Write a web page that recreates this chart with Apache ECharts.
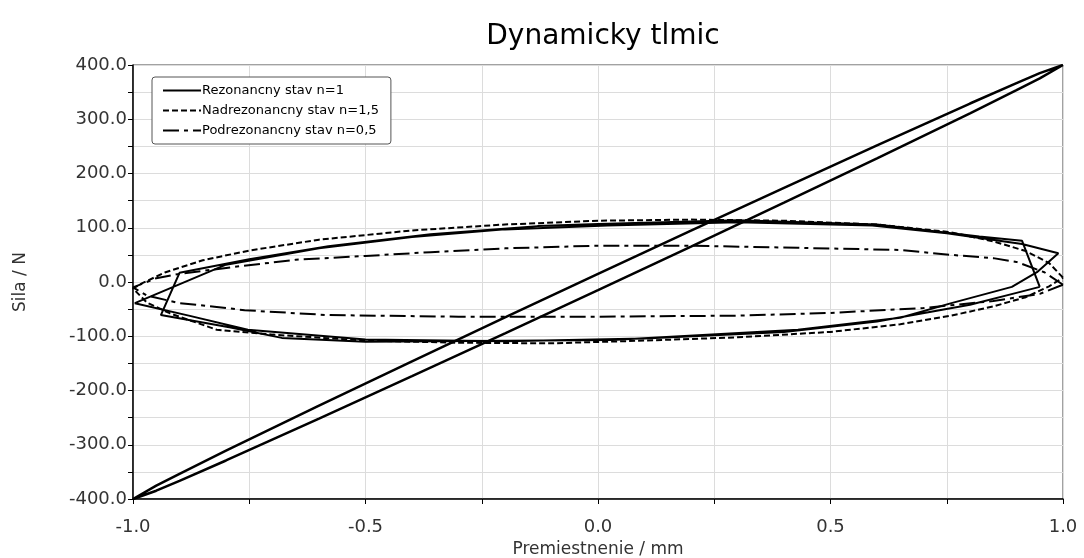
<!DOCTYPE html>
<html>
<head>
<meta charset="utf-8">
<script src="https://cdn.jsdelivr.net/npm/echarts@6/dist/echarts.min.js"></script>
<style>
html,body{margin:0;padding:0;background:#fff;}
#chart{width:1084px;height:558px;}
</style>
</head>
<body>
<div id="chart"></div>
<script>
// ---- data ----
const seriesNames = ['Rezonancny stav n=1', 'Nadrezonancny stav n=1,5', 'Podrezonancny stav n=0,5'];

// Rezonancny stav n=1 : steep thin loop (x in mm, F in N)
const rezDiagonal = [
  [1.0,400],[0.95,385],[0.9,366.5],[0.8,329],[0.6,252],[0.4,173.7],[0.2,94.7],[0.0,15],
  [-0.2,-65.3],[-0.4,-146.3],[-0.6,-228],[-0.8,-311],[-0.9,-353.5],[-0.95,-375.3],[-1.0,-400],
  [-0.95,-384.7],[-0.9,-366.5],[-0.8,-329],[-0.6,-252],[-0.4,-173.7],[-0.2,-94.7],[0.0,-15],
  [0.2,65.3],[0.4,146.3],[0.6,228],[0.8,311],[0.9,353.5],[0.95,375.3],[1.0,400]
];

// Rezonancny stav n=1 : coarse polygonal loops
const rezLoop = [
  [0.95,-9],[0.912,76],[0.82,84],[0.6,106],[0.3,114],[0.0,107],[-0.13,103],[-0.36,88],
  [-0.58,66],[-0.75,42],[-0.90,17],[-0.94,-61],[-0.79,-84],[-0.68,-103],[-0.5,-110],
  [0.03,-107],[0.43,-88],[0.65,-66],[0.76,-39],[0.89,-9],[0.944,18],[0.99,53],
  [0.912,70],[0.75,90],[0.59,104],[0.3,110],[0.02,104],[-0.2,97],[-0.4,83],[-0.6,62],
  [-0.8,32],[-0.996,-39],[-0.88,-62],[-0.753,-88],[-0.5,-106],[-0.2,-109],[0.1,-104],
  [0.4,-92],[0.6,-73],[0.8,-42],[0.9,-20],[0.95,-9]
];

// Nadrezonancny stav n=1,5
const nadLoop = [
  [1.0,8],[0.97,35],[0.92,57],[0.85,75],[0.757,92],[0.6,106],[0.4,113],[0.2,115],[0.0,113],
  [-0.2,106],[-0.4,95],[-0.6,78],[-0.75,58],[-0.85,40],[-0.93,18],[-0.98,-2],[-1.0,-12],
  [-0.97,-38],[-0.92,-58],[-0.82,-88],[-0.7,-97],[-0.5,-108],[-0.3,-112],[-0.1,-113],
  [0.1,-108],[0.3,-102],[0.5,-92],[0.65,-78],[0.76,-62],[0.85,-45],[0.92,-28],[0.97,-8],[1.0,8]
];

// Podrezonancny stav n=0,5
const podLoop = [
  [1.0,-5],[0.96,18],[0.9,37],[0.85,44],[0.76,50],[0.65,59],[0.43,63],[0.2,67],[0.0,67],
  [-0.2,62],[-0.36,55],[-0.5,48],[-0.65,41],[-0.79,27],[-0.9,15],[-0.95,7],[-1.0,-10],
  [-0.97,-25],[-0.9,-39],[-0.82,-46],[-0.76,-52],[-0.58,-61],[-0.3,-64],[0.0,-64],
  [0.3,-62],[0.5,-57],[0.7,-48],[0.85,-35],[0.95,-22],[1.0,-5]
];

const xTicks = [-1.0, -0.5, 0.0, 0.5, 1.0];
const yTicks = [-400, -300, -200, -100, 0, 100, 200, 300, 400];

// ---- chart ----
const chart = echarts.init(document.getElementById('chart'), null, {renderer: 'canvas'});
const FONT = 'DejaVu Sans';
const isMajor = (v, list) => list.some(t => Math.abs(t - v) < 1e-9);

function lineSeries(name, data, type, width) {
  return {
    name: name, type: 'line', data: data, showSymbol: false, symbol: 'none',
    smooth: false, animation: false, z: 3,
    lineStyle: {color: '#000', width: width, type: type},
    itemStyle: {color: '#000'},
    emphasis: {disabled: true}
  };
}

chart.setOption({
  backgroundColor: '#fff',
  animation: false,
  title: {
    text: 'Dynamicky tlmic', left: 598, top: 18, textAlign: 'center',
    textStyle: {fontFamily: FONT, fontSize: 28, fontWeight: 'normal', color: '#000'}
  },
  legend: {
    orient: 'vertical', left: 152, top: 77,
    data: seriesNames,
    itemWidth: 38, itemHeight: 12, itemGap: 7,
    padding: [7, 12, 7, 10],
    borderColor: '#555', borderWidth: 1, borderRadius: 3, backgroundColor: '#fff',
    itemStyle: {opacity: 0},
    textStyle: {fontFamily: FONT, fontSize: 13, color: '#000', padding: [0,0,0,-4]},
    selectedMode: false
  },
  grid: {left: 133, right: 21, top: 65, bottom: 59, containLabel: false, outerBoundsMode: 'none',
    show: true, borderColor: '#444', borderWidth: 1, backgroundColor: 'transparent'},
  xAxis: {
    type: 'value', min: -1, max: 1, interval: 0.25,
    name: 'Premiestnenie / mm', nameLocation: 'middle', nameGap: 42,
    nameTextStyle: {fontFamily: FONT, fontSize: 17, color: '#333'},
    axisLine: {show: true, onZero: false, lineStyle: {color: '#000', width: 1.5}},
    axisTick: {show: true, length: 5, lineStyle: {color: '#000'}},
    axisLabel: {fontFamily: FONT, fontSize: 18, color: '#333', margin: 19,
      formatter: v => isMajor(v, xTicks) ? (Math.abs(v) < 1e-9 ? '0.0' : v.toFixed(1)) : ''},
    splitLine: {show: true, lineStyle: {color: '#dcdcdc', width: 1}}
  },
  yAxis: {
    type: 'value', min: -400, max: 400, interval: 50,
    name: 'Sila / N', nameLocation: 'middle', nameGap: 104, nameRotate: 90,
    nameTextStyle: {fontFamily: FONT, fontSize: 17, color: '#333'},
    axisLine: {show: true, onZero: false, lineStyle: {color: '#000', width: 1.5}},
    axisTick: {show: true, length: 5, lineStyle: {color: '#000'}},
    axisLabel: {fontFamily: FONT, fontSize: 18, color: '#333', margin: 6,
      formatter: v => isMajor(v, yTicks) ? v.toFixed(1) : ''},
    splitLine: {show: true, lineStyle: {color: '#dcdcdc', width: 1}}
  },
  series: [
    lineSeries(seriesNames[0], rezLoop, 'solid', 2),
    lineSeries(seriesNames[1], nadLoop, [6, 3], 2),
    lineSeries(seriesNames[2], podLoop, [16, 5, 4, 5], 2),
    lineSeries(seriesNames[0], rezDiagonal, 'solid', 2.5)
  ]
});
</script>
</body>
</html>
